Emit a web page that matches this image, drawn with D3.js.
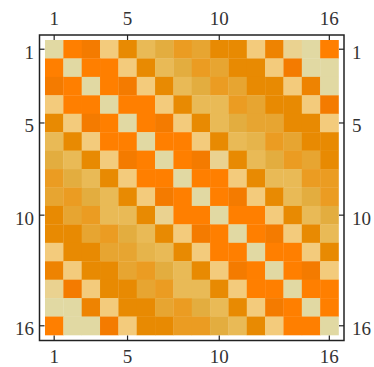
<!DOCTYPE html>
<html><head><meta charset="utf-8">
<script src="https://cdn.jsdelivr.net/npm/d3@7"></script>
<style>html,body{margin:0;padding:0;background:#fff;}svg{display:block;}</style>
</head><body>
<svg id="c" width="374" height="367"></svg>
<script>
const rowIndex = d3.range(1, 17);
const colIndex = d3.range(1, 17);
const tickLabels = [1, 5, 10, 16];
const values = [
  [0,7,6,1,5,2,3,4, 3.5,5,5,1,5.5,0.5,0,7],
  [7,0,7,7,1,5,2,3, 4,3.5,5,5,1,6,0,0],
  [6,7,0,7,6,1,5,2, 3,4,3.5,5,5,1,5.5,0],
  [1,7,7,0,7,7,1,5, 2,2,4,3.5,5,5,1,6],
  [5,1,6,7,0,7,6,1, 5,2,3,3.5,3.5,5,5,1],
  [2,5,1,7,7,0,7,7, 1,5,2,2.5,4,3.5,5,5],
  [3,2,5,1,6,7,0,7, 6,0.5,5,2,3,4,3.5,5],
  [4,3,2,5,1,7,7,0, 7,7,1,5,2,2,4,4],
  [3.5,4,3,2,5,1,6,7, 0,7,6,1,5,2,3,4],
  [5,3.5,4,2,2,5,0.5,7, 7,0,7,7,1,5,2,3],
  [5,5,3.5,4,3,2,5,1, 6,7,0,7,6,1,5,2],
  [1,5,5,3.5,3.5,2.5,2,5, 1,7,7,0,7,7,1,5],
  [5.5,1,5,5,3.5,4,3,2, 5,1,6,7,0,7,6,1],
  [0.5,6,1,5,5,3.5,4,2, 2,5,1,7,7,0,7,7],
  [0,0,5.5,1,5,5,3.5,4, 3,2,5,1,6,7,0,7],
  [7,0,0,6,1,5,5,4, 4,3,2,5,1,7,7,0]
];
const levelStops = [0,1,2,3,4,5,6,7];
const levelColors = ["#e1d9a3","#f3cb7c","#e9ba56","#e3ad3f","#eb9c22","#e88a02","#f47b00","#ff7f00"];

const svg = d3.select("#c");
const color = d3.scaleLinear().domain(levelStops).range(levelColors).interpolate(d3.interpolateRgb);
const x = d3.scaleBand().domain(colIndex).range([45, 338.5]).padding(0);
const y = d3.scaleBand().domain(rowIndex).range([40, 335]).padding(0);

const cells = [];
values.forEach((row, i) => row.forEach((v, j) => cells.push({r: rowIndex[i], c: colIndex[j], v})));

svg.append("g").selectAll("rect").data(cells).join("rect")
  .attr("x", d => x(d.c)).attr("y", d => y(d.r))
  .attr("width", x.bandwidth() + 0.3).attr("height", y.bandwidth() + 0.3)
  .attr("fill", d => color(d.v));

const frame = {l: 39.5, r: 344, t: 35, b: 340.5};
svg.append("rect").attr("x", frame.l).attr("y", frame.t)
  .attr("width", frame.r - frame.l).attr("height", frame.b - frame.t)
  .attr("fill", "none").attr("stroke", "#222").attr("stroke-width", 1.5);

const font = "'Liberation Serif', 'Times New Roman', serif";
function style(g) {
  g.select(".domain").remove();
  g.selectAll(".tick line").attr("stroke", "#222").attr("stroke-width", 1.2);
  g.selectAll(".tick text").attr("fill", "#333").style("font-family", font).style("font-size", "19px");
}
svg.append("g").attr("transform", `translate(0,${frame.t})`)
  .call(d3.axisTop(x).tickValues(tickLabels).tickSize(-5).tickPadding(10)).call(style)
  .selectAll(".tick text").attr("dy", "0");
svg.append("g").attr("transform", `translate(0,${frame.b})`)
  .call(d3.axisBottom(x).tickValues(tickLabels).tickSize(-5).tickPadding(9)).call(style);
svg.append("g").attr("transform", `translate(${frame.l},0)`)
  .call(d3.axisLeft(y).tickValues(tickLabels).tickSize(-5).tickPadding(5.5)).call(style)
  .selectAll(".tick text").attr("dy", "0.5em");
svg.append("g").attr("transform", `translate(${frame.r},0)`)
  .call(d3.axisRight(y).tickValues(tickLabels).tickSize(-5).tickPadding(8)).call(style)
  .selectAll(".tick text").attr("dy", "0.5em");
</script>
</body></html>
